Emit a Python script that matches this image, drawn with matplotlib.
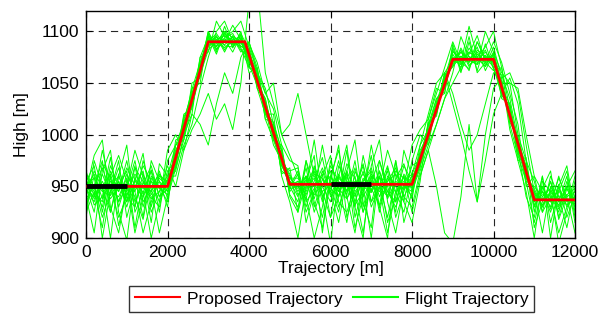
import matplotlib
matplotlib.use("Agg")
import matplotlib.pyplot as plt
import numpy as np

plt.rcParams["font.family"] = ["Liberation Sans", "DejaVu Sans"]

# proposed trajectory (break points)
plan_x = [0, 2000, 3000, 3900, 5000, 8000, 9000, 10000, 11000, 12000]
plan_y = [950, 950, 1090, 1090, 952, 952, 1073, 1073, 937, 937]

# thick black reference segments
seg1_x = [0, 1000]
seg1_y = [950, 950]
seg2_x = [6000, 7000]
seg2_y = [952, 952]

# flight trajectories sampled every 200 m
dist = np.arange(0, 12001, 200)

flight_01 = [948, 935, 962, 941, 955, 930, 958, 944, 966, 940, 952,
             985, 1000, 1040, 1060,
             1092, 1085, 1098, 1088, 1094,
             1070, 1058, 1020, 1008, 970, 955,
             940, 968, 930, 957, 945, 975, 938, 960, 925, 955, 948, 970, 935, 962, 950,
             970, 1010, 1020, 1055,
             1070, 1082, 1066, 1078, 1070, 1075,
             1040, 1025, 985, 970, 940,
             945, 925, 950, 930, 940]
flight_02 = [955, 970, 925, 960, 912, 948, 975, 935, 950, 962, 945,
             970, 1012, 1030, 1068,
             1086, 1095, 1080, 1096, 1089,
             1082, 1045, 1032, 995, 982, 948,
             962, 930, 955, 978, 940, 950, 915, 965, 945, 980, 930, 955, 968, 940, 956,
             982, 995, 1030, 1045,
             1078, 1065, 1084, 1072, 1080, 1068,
             1052, 1012, 998, 958, 945,
             930, 955, 920, 948, 935]
flight_03 = [940, 905, 965, 985, 925, 898, 960, 920, 975, 955, 930,
             990, 995, 1045, 1050,
             1098, 1080, 1105, 1084, 1100,
             1065, 1062, 1015, 1012, 962, 968,
             925, 955, 980, 905, 960, 940, 985, 920, 950, 900, 965, 940, 975, 915, 945,
             990, 1005, 1035, 1040,
             1085, 1060, 1090, 1062, 1088, 1064,
             1045, 1030, 975, 978, 925,
             960, 915, 945, 965, 920]
flight_04 = [960, 945, 935, 970, 950, 965, 910, 955, 940, 930, 965,
             975, 1020, 1025, 1070,
             1090, 1092, 1087, 1095, 1082,
             1075, 1050, 1035, 1000, 985, 945,
             955, 945, 965, 935, 970, 955, 942, 975, 930, 960, 952, 920, 958, 972, 945,
             968, 1012, 1018, 1058,
             1066, 1076, 1070, 1085, 1062, 1079,
             1035, 1030, 990, 962, 942,
             938, 942, 925, 955, 932]
flight_05 = [945, 980, 995, 930, 905, 950, 985, 960, 915, 972, 960,
             960, 990, 1010, 1045,
             1075, 1100, 1110, 1090, 1085,
             1088, 1070, 1040, 1025, 990, 975,
             970, 915, 945, 990, 950, 925, 965, 995, 935, 910, 975, 950, 925, 985, 960,
             960, 985, 1010, 1035,
             1060, 1095, 1075, 1068, 1100, 1080,
             1060, 1050, 1000, 975, 955,
             925, 960, 940, 910, 950]
flight_06 = [935, 952, 920, 945, 968, 940, 930, 975, 948, 905, 940,
             995, 998, 1050, 1055,
             1095, 1088, 1092, 1080, 1097,
             1060, 1065, 1025, 990, 975, 960,
             945, 960, 925, 950, 965, 930, 955, 948, 970, 935, 960, 945, 930, 952, 940,
             985, 1000, 1028, 1050,
             1075, 1070, 1064, 1082, 1076, 1070,
             1048, 1015, 995, 965, 930,
             950, 935, 958, 940, 945]
flight_07 = [950, 925, 972, 958, 935, 962, 945, 905, 935, 960, 955,
             965, 1000, 1020, 1010,
             990, 1030, 1060, 1040, 1075,
             1090, 1060, 1045, 1010, 985, 950,
             935, 975, 950, 920, 960, 985, 940, 905, 955, 965, 925, 960, 950, 935, 975,
             1000, 990, 1010, 1035,
             1050, 1065, 1095, 1060, 1070, 1090,
             1070, 1040, 1010, 950, 960,
             925, 940, 905, 930, 960]
flight_08 = [930, 960, 900, 945, 975, 920, 950, 965, 925, 945, 970,
             950, 985, 1005, 1020,
             1040, 1015, 1030, 1005, 1050,
             1130, 1145, 1060, 1030, 1000, 980,
             960, 940, 900, 930, 975, 945, 965, 910, 940, 990, 950, 905, 945, 960, 925,
             960, 985, 950, 905,
             895, 940, 1010, 935, 1000, 1045,
             1055, 1060, 1040, 990, 945,
             905, 950, 935, 960, 915]
flight_09 = [965, 940, 985, 950, 920, 940, 970, 930, 960, 950, 935,
             980, 1015, 1040, 1065,
             1100, 1083, 1090, 1106, 1092,
             1080, 1060, 1040, 1050, 1000, 1010,
             1040, 1000, 960, 945, 920, 970, 955, 930, 980, 945, 960, 915, 940, 970, 955,
             975, 1002, 1022, 1060,
             1072, 1080, 1070, 1090, 1072, 1078,
             1050, 1050, 1045, 1000, 960,
             945, 930, 960, 935, 945]
flight_10 = [955, 948, 930, 965, 945, 975, 935, 952, 970, 940, 948,
             972, 1008, 1035, 1062,
             1088, 1096, 1082, 1092, 1090,
             1072, 1055, 1030, 1005, 965, 958,
             950, 938, 970, 950, 935, 962, 945, 968, 940, 955, 975, 945, 935, 960, 948,
             978, 1000, 1025, 1060,
             1040, 1010, 985, 1000, 1030, 1060,
             1058, 1035, 995, 955, 950,
             940, 948, 928, 942, 938]
flight_11 = [952, 958, 945, 950, 960, 942, 955, 948, 945, 958, 950,
             978, 1008, 1032, 1064,
             1092, 1089, 1093, 1087, 1092,
             1076, 1054, 1026, 1003, 978, 951,
             955, 948, 958, 945, 952, 960, 946, 955, 950, 944, 958, 950, 953, 947, 955,
             975, 1003, 1024, 1050,
             1074, 1071, 1076, 1070, 1075, 1072,
             1045, 1020, 990, 966, 938,
             939, 935, 941, 936, 938]
flight_12 = [946, 940, 955, 938, 950, 945, 962, 950, 938, 945, 956,
             980, 1004, 1036, 1058,
             1088, 1094, 1091, 1094, 1086,
             1079, 1050, 1028, 1000, 980, 955,
             948, 956, 942, 952, 960, 948, 938, 952, 962, 950, 945, 955, 962, 950, 945,
             972, 999, 1027, 1047,
             1070, 1076, 1072, 1068, 1077, 1070,
             1048, 1016, 993, 962, 935,
             942, 938, 946, 932, 940]
flight_13 = [920, 975, 950, 900, 960, 990, 925, 945, 900, 935, 985,
             1000, 985, 1020, 1075,
             1080, 1110, 1095, 1100, 1110,
             1085, 1045, 1020, 1020, 960, 935,
             900, 950, 995, 940, 895, 960, 990, 930, 900, 970, 995, 935, 905, 950, 990,
             1005, 1015, 1040, 1065,
             1090, 1070, 1105, 1075, 1085, 1100,
             1065, 1025, 985, 940, 920,
             960, 900, 950, 970, 925]
flight_14 = [940, 965, 948, 925, 955, 935, 968, 955, 945, 965, 938,
             968, 995, 1028, 1058,
             1082, 1090, 1100, 1085, 1093,
             1068, 1048, 1035, 995, 972, 965,
             968, 935, 948, 962, 920, 940, 972, 958, 925, 948, 932, 968, 945, 925, 962,
             990, 1020, 1050, 1060,
             1030, 1000, 965, 935, 975, 1020,
             1040, 1055, 1030, 975, 910,
             935, 955, 930, 950, 965]
flight_15 = [958, 932, 940, 978, 930, 955, 940, 918, 958, 948, 960,
             990, 1012, 1044, 1070,
             1094, 1086, 1098, 1090, 1088,
             1085, 1062, 1022, 1012, 985, 942,
             930, 960, 950, 968, 945, 915, 960, 940, 965, 930, 950, 985, 960, 940, 930,
             965, 990, 1032, 1055,
             1082, 1068, 1080, 1075, 1066, 1085,
             1055, 1005, 975, 945, 900,
             955, 945, 895, 925, 955]
flight_16 = [962, 950, 968, 945, 940, 958, 930, 962, 942, 955, 945,
             975, 1002, 1038, 1066,
             1096, 1092, 1084, 1092, 1095,
             1073, 1056, 1024, 1008, 970, 958,
             958, 942, 962, 958, 948, 940, 965, 945, 955, 968, 940, 958, 944, 955, 962,
             980, 1008, 1030, 1052,
             1068, 1080, 1073, 1080, 1068, 1077,
             1042, 1022, 985, 958, 945,
             932, 944, 938, 948, 930]
flight_17 = [950, 962, 938, 955, 945, 968, 950, 940, 955, 948, 942,
             982, 1010, 1030, 1060,
             1085, 1092, 1096, 1088, 1090,
             1078, 1058, 1030, 998, 975, 962,
             942, 950, 968, 940, 955, 945, 962, 935, 958, 946, 965, 938, 955, 948, 960,
             970, 995, 1028, 1048,
             1072, 1068, 1080, 1074, 1066, 1080,
             1050, 1018, 992, 960, 948,
             930, 946, 935, 942, 948]
flight_18 = [938, 950, 975, 925, 962, 935, 955, 982, 930, 962, 952,
             968, 1018, 1028, 1062,
             1100, 1082, 1094, 1098, 1084,
             1065, 1058, 1020, 1004, 972, 950,
             965, 925, 945, 960, 980, 935, 925, 950, 972, 935, 948, 965, 920, 945, 970,
             975, 1010, 1035, 1045,
             1080, 1075, 1062, 1090, 1074, 1066,
             1038, 1028, 982, 968, 935,
             950, 928, 952, 920, 942]
flight_19 = [952, 938, 950, 962, 935, 950, 945, 970, 955, 935, 958,
             975, 1005, 1035, 1068,
             1090, 1098, 1086, 1085, 1098,
             1082, 1052, 1032, 1005, 980, 948,
             950, 960, 938, 965, 942, 958, 950, 932, 945, 962, 950, 940, 965, 958, 938,
             982, 1004, 1022, 1055,
             1066, 1084, 1068, 1072, 1082, 1064,
             1044, 1020, 995, 970, 932,
             945, 940, 932, 950, 936]
flight_20 = [925, 945, 910, 960, 980, 955, 905, 940, 965, 925, 975,
             990, 1000, 1030, 1075,
             1095, 1078, 1100, 1094, 1080,
             1090, 1065, 1015, 995, 990, 940,
             925, 975, 935, 910, 955, 990, 920, 945, 905, 960, 930, 900, 975, 935, 915,
             955, 1015, 1045, 1040,
             1088, 1062, 1078, 1096, 1070, 1062,
             1065, 1010, 980, 955, 915,
             948, 965, 918, 940, 905]

flights = [flight_01, flight_02, flight_03, flight_04, flight_05, flight_06,
           flight_07, flight_08, flight_09, flight_10, flight_11, flight_12,
           flight_13, flight_14, flight_15, flight_16, flight_17, flight_18,
           flight_19, flight_20]

fig = plt.figure(figsize=(6.11, 3.17), dpi=100)
ax = fig.add_axes([0.1408, 0.249, 0.8003, 0.717])

for i, h in enumerate(flights):
    ax.plot(dist, h, color="#00ff00", lw=0.7,
            label="Flight Trajectory" if i == 0 else None, zorder=2)

ax.plot(plan_x, plan_y, color="red", lw=2, label="Proposed Trajectory", zorder=3)
ax.plot(seg1_x, seg1_y, color="black", lw=3.5, solid_capstyle="butt", zorder=4)
ax.plot(seg2_x, seg2_y, color="black", lw=3.5, solid_capstyle="butt", zorder=4)

ax.set_xlim(0, 12000)
ax.set_ylim(900, 1120)
ax.set_xticks([0, 2000, 4000, 6000, 8000, 10000, 12000])
ax.set_yticks([900, 950, 1000, 1050, 1100])
ax.grid(True, color="#262626", linestyle=(0, (6.5, 4.5)), lw=0.8)
ax.tick_params(direction="in", top=True, right=True, labelsize=12.5, length=4, pad=5)
for s in ax.spines.values():
    s.set_linewidth(1)

ax.set_xlabel("Trajectory [m]", fontsize=12.5, labelpad=1)
ax.set_ylabel("High [m]", fontsize=12.5, labelpad=8)

handles, labels = ax.get_legend_handles_labels()
order = [labels.index("Proposed Trajectory"), labels.index("Flight Trajectory")]
leg = fig.legend([handles[k] for k in order], [labels[k] for k in order],
                 loc="center", bbox_to_anchor=(0.5426, 0.0568), ncol=2,
                 fontsize=12.5, frameon=True, fancybox=False, edgecolor="black",
                 handlelength=2.6, handletextpad=0.4, columnspacing=0.6,
                 borderpad=0.3, borderaxespad=0)
leg.get_frame().set_linewidth(1)
for line in leg.get_lines():
    line.set_linewidth(1.5)

fig.savefig("out.png", dpi=100)
